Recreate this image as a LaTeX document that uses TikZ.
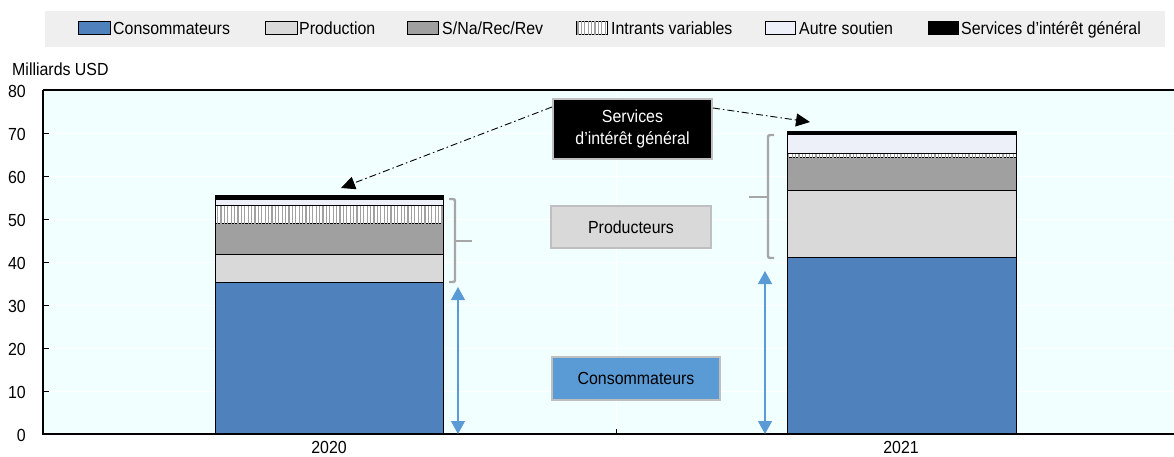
\documentclass[tikz,border=0pt]{standalone}
\usepackage{fontspec}
\setmainfont{Liberation Sans}[FakeStretch=0.91]
\usetikzlibrary{arrows.meta,patterns.meta}
\definecolor{plotbg}{RGB}{242,255,255}
\definecolor{legbg}{RGB}{239,239,239}
\definecolor{cons}{RGB}{79,129,189}
\definecolor{prod}{RGB}{217,217,217}
\definecolor{sna}{RGB}{160,160,160}
\definecolor{autre}{RGB}{237,240,248}
\definecolor{boxblue}{RGB}{91,155,213}
\definecolor{brk}{RGB}{166,166,166}
\definecolor{boxborder}{RGB}{191,191,191}
\definecolor{stripe}{RGB}{160,160,160}
\tikzset{
  seg/.style={draw=black, line width=0.9pt},
  consseg/.style={seg, fill=cons},
  prodseg/.style={seg, fill=prod},
  snaseg/.style={seg, fill=sna},
  intrseg/.style={seg, fill=white, postaction={pattern={Lines[angle=90,distance=3.4pt,line width=1.1pt]}, pattern color=stripe}},
  autreseg/.style={seg, fill=autre},
  servseg/.style={seg, fill=black},
  legtext/.style={anchor=base west, inner sep=0pt},
  ticklab/.style={anchor=east, inner sep=0pt},
  grid/.style={white, line width=1pt},
  axis/.style={black, line width=1.4pt},
  bracket/.style={brk, line width=2.4pt, rounded corners=2pt},
  bluearrow/.style={boxblue, line width=1.2pt, {Triangle[width=14pt,length=13pt]}-{Triangle[width=14pt,length=13pt]}},
  ddarrow/.style={black, line width=0.9pt, dash pattern=on 7pt off 3pt on 1.5pt off 3pt, -{Triangle[width=13pt,length=14pt]}},
  labelbox/.style={draw=boxborder, line width=2pt, align=center, inner sep=0pt},
}
\begin{document}
\begin{tikzpicture}[x=1pt,y=-1pt,font=\fontsize{17.5}{21}\selectfont]
\useasboundingbox[fill=white] (0,0) rectangle (1174,456);
% legend
\fill[legbg] (45,11) rectangle (1165,47);
\draw[consseg] (78,21.5) rectangle (110,34);
\node[legtext] (l1) at (113,34) {Consommateurs};
\draw[prodseg] (265,21.5) rectangle (297,34);
\node[legtext] (l2) at (299,34) {Production};
\draw[snaseg] (407,21.5) rectangle (438,34);
\node[legtext] (l3) at (442,34) {S/Na/Rec/Rev};
\draw[intrseg] (576,21.5) rectangle (607,34);
\node[legtext] (l4) at (611,34) {Intrants variables};
\draw[autreseg] (765,21.5) rectangle (795,34);
\node[legtext] (l5) at (799,34) {Autre soutien};
\draw[servseg] (928,21.5) rectangle (958,34);
\node[legtext] (l6) at (961,34) {Services d’intérêt général};
% axis title
\node[legtext] (ytitle) at (12,75) {Milliards USD};
% plot area
\fill[plotbg] (43,90) rectangle (1174,434);
\foreach \yy in {133,176,219,262,305,348,391} {\draw[grid] (43,\yy) -- (1174,\yy);}
\draw[grid] (616,90) -- (616,434);
% bars 2020
\draw[consseg] (215,282) rectangle (443,434);
\draw[prodseg] (215,254) rectangle (443,282);
\draw[snaseg] (215,223.7) rectangle (443,254);
\draw[intrseg] (215,205.7) rectangle (443,223.7);
\draw[autreseg] (215,199) rectangle (443,205.7);
\draw[servseg] (215,195.5) rectangle (443,199);
% bars 2021
\draw[consseg] (787,257.3) rectangle (1016,434);
\draw[prodseg] (787,190) rectangle (1016,257.3);
\draw[snaseg] (787,157.3) rectangle (1016,190);
\draw[intrseg] (787,153.3) rectangle (1016,157.3);
\draw[autreseg] (787,134.3) rectangle (1016,153.3);
\draw[servseg] (787,131) rectangle (1016,134.3);
% axes
\draw[axis] (43,90) -- (1174,90);
\draw[axis] (43,90) -- (43,434) -- (1174,434);
\foreach \yy/\lab in {90/80,133/70,176/60,219/50,262/40,305/30,348/20,391/10,434/0} {
  \draw[black, line width=1pt] (43,\yy) -- (49,\yy);
  \node[ticklab] at (26,\yy+1.5) {\lab};
}
\draw[black, line width=1pt] (616,434) -- (616,429);
\node[anchor=base, inner sep=0pt] (x1) at (329,453.5) {2020};
\node[anchor=base, inner sep=0pt] (x2) at (901,453.5) {2021};
% brackets
\draw[bracket] (449,199) -- (455,199) -- (455,282) -- (449,282);
\draw[bracket] (455,241) -- (472,241);
\draw[bracket] (774,135) -- (768,135) -- (768,258) -- (774,258);
\draw[bracket] (768,197) -- (749,197);
% label boxes
\node[labelbox, fill=black, text=white, minimum width=159pt, minimum height=60pt, font=\fontsize{17.5}{22}\selectfont] (svc) at (632.5,129) {Services\\d'intérêt général};
\node[labelbox, fill=prod, minimum width=160pt, minimum height=42pt] (prodbox) at (631,227) {Producteurs};
\node[labelbox, fill=boxblue, minimum width=168pt, minimum height=43pt] (consbox) at (636,378.5) {Consommateurs};
% arrows
\coordinate (tip20) at (341,188);
\coordinate (tip21) at (810,122);
\draw[ddarrow] ([yshift=22pt]svc.west) -- (tip20);
\draw[ddarrow] ([yshift=21pt]svc.east) -- (tip21);
\coordinate (b20t) at (458,287);
\coordinate (b20b) at (458,434);
\coordinate (b21t) at (765,271);
\coordinate (b21b) at (765,434);
\draw[bluearrow] (b20t) -- (b20b);
\draw[bluearrow] (b21t) -- (b21b);
\end{tikzpicture}
\end{document}
